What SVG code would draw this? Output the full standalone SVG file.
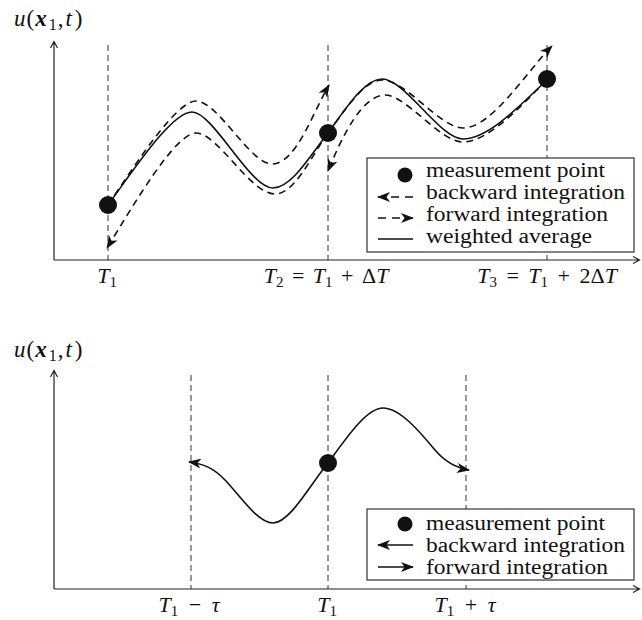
<svg xmlns="http://www.w3.org/2000/svg" width="642" height="620" viewBox="0 0 642 620">
<style>
text{font-family:"Liberation Serif","Times New Roman",serif;fill:#111}
.lab{font-size:22px}
.leg{font-size:20px}
.it{font-style:italic}
.axis{stroke:#222;stroke-width:1.2;fill:none}
.guide{stroke:#333;stroke-width:1;stroke-dasharray:6 4;fill:none}
.solid{stroke:#111;stroke-width:1.6;fill:none}
.dash{stroke:#111;stroke-width:1.6;fill:none;stroke-dasharray:7 5}
.box{stroke:#333;stroke-width:1.2;fill:#fff}
.pt{fill:#111}
</style>
<defs>
<marker id="ah" viewBox="0 0 13 10" refX="12" refY="5" markerWidth="13" markerHeight="10" markerUnits="userSpaceOnUse" orient="auto">
<path d="M0,0 L13,5 L0,10 L3.5,5 Z" fill="#111"/>
</marker>
</defs>

<!-- top plot -->
<g id="top-axes">
<path class="axis" d="M54,260 V42 M50.5,48 L54,41.5 L57.5,48"/>
<path class="axis" d="M54,260 H639 M633,256.5 L639.5,260 L633,263.5"/>
<text x="14" y="26" style="font-size:23px"><tspan class="it">u</tspan><tspan dx="1">(</tspan><tspan dx="1" font-weight="bold" class="it">x</tspan><tspan dx="2" font-size="16" dy="4">1</tspan><tspan dx="1" dy="-4">,</tspan><tspan dx="2" class="it">t</tspan><tspan dx="3">)</tspan></text>
</g>
<g id="top-guides">
<line class="guide" x1="108" y1="45" x2="108" y2="260"/>
<line class="guide" x1="328" y1="45" x2="328" y2="260"/>
<line class="guide" x1="547" y1="45" x2="547" y2="260"/>
</g>
<g id="top-connectors">
<path class="solid" d="M108,205 C135,168 172,112 192,112 C213,112 250,188 273,188 C292,188 312,153 328,133"/>
<path class="solid" d="M328,133 C345,110 364,79 382,79 C405,79 440,139 463,139 C490,139 525,100 547,80"/>
<path class="dash" marker-end="url(#ah)" d="M108,205 C135,165 176,101 196,101 C218,101 250,164 272,164 C296,164 313,112 329,85"/>
<path class="dash" marker-end="url(#ah)" d="M328,133 C312,155 295,194 275,194 C250,194 218,133 196,133 C175,133 133,206 107,248"/>
<path class="dash" marker-end="url(#ah)" d="M328,133 C345,110 364,80 382,80 C406,80 440,128 463,128 C492,128 526,72 552,46"/>
<path class="dash" marker-end="url(#ah)" d="M547,80 C525,101 490,142 463,142 C440,142 406,95 385,95 C363,95 343,134 328,171"/>
</g>
<g id="top-points">
<circle class="pt" cx="108" cy="205" r="9"/>
<circle class="pt" cx="328" cy="133" r="9"/>
<circle class="pt" cx="547" cy="79" r="9"/>
</g>
<g id="top-ticks">
<text class="lab" x="107" y="283" text-anchor="middle"><tspan class="it">T</tspan><tspan font-size="15" dy="4">1</tspan></text>
<text class="lab" x="326" y="283" text-anchor="middle"><tspan class="it">T</tspan><tspan font-size="15" dy="4">2</tspan><tspan dx="3" dy="-4"> = </tspan><tspan dx="3" class="it">T</tspan><tspan font-size="15" dy="4">1</tspan><tspan dx="3" dy="-4"> + </tspan><tspan dx="3">Δ</tspan><tspan class="it">T</tspan></text>
<text class="lab" x="547" y="283" text-anchor="middle"><tspan class="it">T</tspan><tspan font-size="15" dy="4">3</tspan><tspan dx="4" dy="-4"> = </tspan><tspan dx="4" class="it">T</tspan><tspan font-size="15" dy="4">1</tspan><tspan dx="4" dy="-4"> + </tspan><tspan dx="4">2Δ</tspan><tspan class="it">T</tspan></text>
</g>
<g id="top-legend">
<rect class="box" x="367" y="158" width="267" height="94"/>
<circle class="pt" cx="405" cy="175" r="7.5"/>
<text class="leg" x="426" y="177" textLength="179" lengthAdjust="spacingAndGlyphs">measurement point</text>
<path class="dash" marker-end="url(#ah)" d="M413,197 H378" style="stroke-dasharray:8 6"/>
<text class="leg" x="426" y="199" textLength="199" lengthAdjust="spacingAndGlyphs">backward integration</text>
<path class="dash" marker-end="url(#ah)" d="M378,218 H413" style="stroke-dasharray:8 6"/>
<text class="leg" x="426" y="221" textLength="182" lengthAdjust="spacingAndGlyphs">forward integration</text>
<path class="solid" d="M378,239 H413"/>
<text class="leg" x="426" y="243" textLength="166" lengthAdjust="spacingAndGlyphs">weighted average</text>
</g>

<!-- bottom plot -->
<g id="bottom-axes">
<path class="axis" d="M54,589 V371 M50.5,377 L54,370.5 L57.5,377"/>
<path class="axis" d="M54,589 H639 M633,585.5 L639.5,589 L633,592.5"/>
<text x="14" y="357" style="font-size:23px"><tspan class="it">u</tspan><tspan dx="1">(</tspan><tspan dx="1" font-weight="bold" class="it">x</tspan><tspan dx="2" font-size="16" dy="4">1</tspan><tspan dx="1" dy="-4">,</tspan><tspan dx="2" class="it">t</tspan><tspan dx="3">)</tspan></text>
</g>
<g id="bottom-guides">
<line class="guide" x1="191" y1="375" x2="191" y2="589"/>
<line class="guide" x1="328" y1="375" x2="328" y2="589"/>
<line class="guide" x1="466" y1="375" x2="466" y2="589"/>
</g>
<g id="bottom-connectors">
<path class="solid" marker-end="url(#ah)" d="M328,463 C312,482 290,523 273,523 C258,523 240,496 226,481 C214,468 204,464 189,462"/>
<path class="solid" marker-end="url(#ah)" d="M328,463 C345,440 366,408 383,408 C400,408 420,432 435,450 C446,463 457,468 469,470"/>
</g>
<g id="bottom-points">
<circle class="pt" cx="328" cy="463" r="9"/>
</g>
<g id="bottom-ticks">
<text class="lab" x="189" y="612" text-anchor="middle"><tspan class="it">T</tspan><tspan font-size="15" dy="4">1</tspan><tspan dx="5" dy="-4"> − </tspan><tspan dx="5" class="it">τ</tspan></text>
<text class="lab" x="327" y="612" text-anchor="middle"><tspan class="it">T</tspan><tspan font-size="15" dy="4">1</tspan></text>
<text class="lab" x="465" y="612" text-anchor="middle"><tspan class="it">T</tspan><tspan font-size="15" dy="4">1</tspan><tspan dx="5" dy="-4"> + </tspan><tspan dx="5" class="it">τ</tspan></text>
</g>
<g id="bottom-legend">
<rect class="box" x="367" y="509" width="267" height="71"/>
<circle class="pt" cx="405" cy="524" r="7.5"/>
<text class="leg" x="426" y="530" textLength="179" lengthAdjust="spacingAndGlyphs">measurement point</text>
<path class="solid" marker-end="url(#ah)" d="M413,545 H378"/>
<text class="leg" x="426" y="552" textLength="199" lengthAdjust="spacingAndGlyphs">backward integration</text>
<path class="solid" marker-end="url(#ah)" d="M378,567 H413"/>
<text class="leg" x="426" y="574" textLength="182" lengthAdjust="spacingAndGlyphs">forward integration</text>
</g>
</svg>
